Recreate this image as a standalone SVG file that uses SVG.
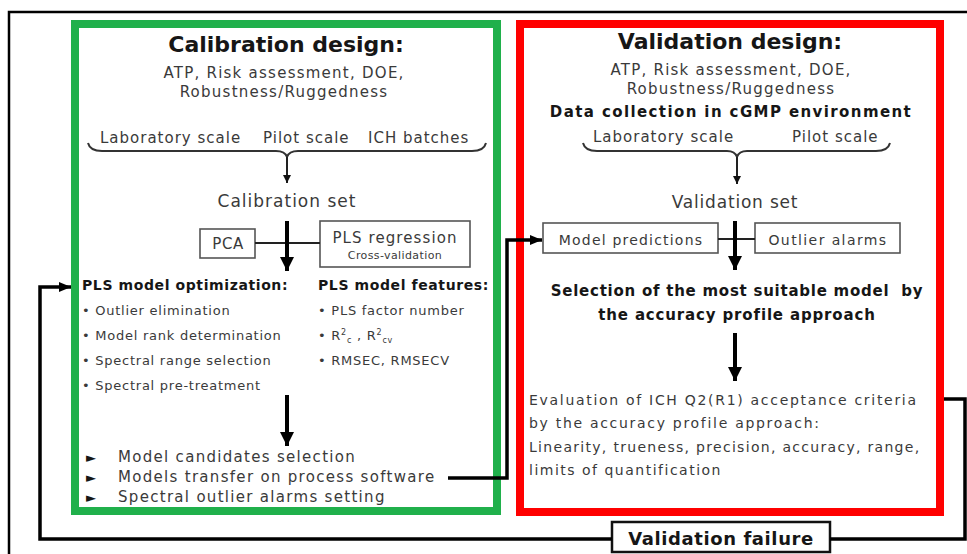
<svg xmlns="http://www.w3.org/2000/svg" width="967" height="554" viewBox="0 0 967 554">
<defs>
<style>
.r{font-family:"DejaVu Sans",Verdana,sans-serif;fill:#3a3a3a}
.b{font-family:"DejaVu Sans",Verdana,sans-serif;font-weight:bold;fill:#161616}
.m{text-anchor:middle}
.box{fill:#fff;stroke:#555;stroke-width:1.6}
.ln{fill:none;stroke:#000;stroke-width:3.5}
.thin{fill:none;stroke:#222;stroke-width:2}
.th{fill:none;stroke:#000;stroke-width:4}
.brace{fill:none;stroke:#333;stroke-width:2}
</style>
<marker id="ah" markerUnits="userSpaceOnUse" viewBox="0 0 12 10" refX="12" refY="5" markerWidth="12" markerHeight="10" orient="auto"><path d="M0,0L12,5L0,10z" fill="#000"/></marker>
<marker id="ahs" markerUnits="userSpaceOnUse" viewBox="0 0 8 8" refX="8" refY="4" markerWidth="8" markerHeight="8" orient="auto"><path d="M0,0L8,4L0,8z" fill="#111"/></marker>
<marker id="ahb" markerUnits="userSpaceOnUse" viewBox="0 0 14 14" refX="14" refY="7" markerWidth="14" markerHeight="14" orient="auto"><path d="M0,0L14,7L0,14z" fill="#000"/></marker>
</defs>
<rect width="967" height="554" fill="#fff"/>

<g id="frame">
<path d="M9,554V12H967" fill="none" stroke="#000" stroke-width="2.5"/>
</g>

<g id="calibration">
<rect x="75" y="24" width="422" height="487" fill="none" stroke="#20b04b" stroke-width="8"/>
<text class="b m" x="286" y="52" font-size="22">Calibration design:</text>
<text class="r m" x="284" y="78" font-size="15" letter-spacing="1.25">ATP, Risk assessment, DOE,</text>
<text class="r m" x="284" y="97" font-size="15" letter-spacing="1.25">Robustness/Ruggedness</text>
<text class="r" x="100" y="143" font-size="15" letter-spacing="1">Laboratory scale</text>
<text class="r" x="263" y="143" font-size="15" letter-spacing="1">Pilot scale</text>
<text class="r" x="368" y="143" font-size="15" letter-spacing="1">ICH batches</text>
<path class="brace" d="M88,143Q90,151 102,151L276,151Q285,151 287,157Q289,151 298,151L472,151Q484,151 486,143"/>
<text class="r m" x="287" y="207" font-size="17" letter-spacing="1">Calibration set</text>
</g>

<g id="pca">
<rect class="box" x="200" y="229" width="55" height="29"/>
<text class="r m" x="228" y="249" font-size="15" letter-spacing="0.5">PCA</text>
</g>

<g id="pls-regression">
<rect class="box" x="320" y="221" width="150" height="46"/>
<text class="r m" x="395" y="243" font-size="15" letter-spacing="1.1">PLS regression</text>
<text class="r m" x="395" y="259" font-size="11" letter-spacing="0.4">Cross-validation</text>
</g>

<g id="pls-optimization">
<text class="b" x="82" y="290" font-size="14" letter-spacing="0.6">PLS model optimization:</text>
<text class="r" x="82" y="315" font-size="13" letter-spacing="0.75">• Outlier elimination</text>
<text class="r" x="82" y="340" font-size="13" letter-spacing="0.75">• Model rank determination</text>
<text class="r" x="82" y="365" font-size="13" letter-spacing="0.75">• Spectral range selection</text>
<text class="r" x="82" y="390" font-size="13" letter-spacing="0.75">• Spectral pre-treatment</text>
</g>

<g id="pls-features">
<text class="b" x="318" y="290" font-size="14" letter-spacing="0.6">PLS model features:</text>
<text class="r" x="318" y="315" font-size="13" letter-spacing="0.75">• PLS factor number</text>
<text class="r" x="318" y="340" font-size="13" letter-spacing="0.75">• R<tspan font-size="8" dy="-5">2</tspan><tspan font-size="8" dy="8">c</tspan><tspan dy="-3"> , R</tspan><tspan font-size="8" dy="-5">2</tspan><tspan font-size="8" dy="8">cv</tspan></text>
<text class="r" x="318" y="365" font-size="13" letter-spacing="0.75">• RMSEC, RMSECV</text>
</g>

<g id="calibration-output">
<text class="b" x="86" y="462" font-size="13">►</text>
<text class="b" x="86" y="482" font-size="13">►</text>
<text class="b" x="86" y="502" font-size="13">►</text>
<text class="r" x="118" y="462" font-size="15" letter-spacing="1.3">Model candidates selection</text>
<text class="r" x="118" y="482" font-size="15" letter-spacing="1.3">Models transfer on process software</text>
<text class="r" x="118" y="502" font-size="15" letter-spacing="1.3">Spectral outlier alarms setting</text>
</g>

<g id="validation">
<rect x="520" y="24" width="420" height="488" fill="none" stroke="#ff0000" stroke-width="8"/>
<text class="b m" x="730" y="49" font-size="22">Validation design:</text>
<text class="r m" x="731" y="75" font-size="15" letter-spacing="1.25">ATP, Risk assessment, DOE,</text>
<text class="r m" x="731" y="94" font-size="15" letter-spacing="1.25">Robustness/Ruggedness</text>
<text class="b m" x="731" y="117" font-size="15" letter-spacing="1.4">Data collection in cGMP environment</text>
<text class="r" x="593" y="142" font-size="15" letter-spacing="1">Laboratory scale</text>
<text class="r" x="792" y="142" font-size="15" letter-spacing="1">Pilot scale</text>
<path class="brace" d="M583,143Q585,151 597,151L727,151Q735,151 737,157Q739,151 747,151L876,151Q888,151 890,143"/>
<text class="r m" x="735" y="208" font-size="17" letter-spacing="0.8">Validation set</text>
</g>

<g id="model-predictions">
<rect class="box" x="543" y="223" width="175" height="30"/>
<text class="r m" x="631" y="245" font-size="14" letter-spacing="1.2">Model predictions</text>
</g>

<g id="outlier-alarms">
<rect class="box" x="755" y="223" width="145" height="30"/>
<text class="r m" x="828" y="245" font-size="14" letter-spacing="1.4">Outlier alarms</text>
</g>

<g id="selection">
<text class="b m" x="737" y="296" font-size="15" letter-spacing="0.75" xml:space="preserve">Selection of the most suitable model  by</text>
<text class="b m" x="737" y="320" font-size="15" letter-spacing="0.85">the accuracy profile approach</text>
</g>

<g id="evaluation">
<text class="r" x="529" y="405" font-size="14" letter-spacing="1.7">Evaluation of ICH Q2(R1) acceptance criteria</text>
<text class="r" x="529" y="428" font-size="14" letter-spacing="1.7">by the accuracy profile approach:</text>
<text class="r" x="529" y="452" font-size="14" letter-spacing="1.3">Linearity, trueness, precision, accuracy, range,</text>
<text class="r" x="529" y="475" font-size="14" letter-spacing="1.5">limits of quantification</text>
</g>

<g id="validation-failure">
<rect x="612" y="522" width="218" height="30" fill="#fff" stroke="#111" stroke-width="2.5"/>
<text class="b m" x="721" y="545" font-size="18" letter-spacing="0.6">Validation failure</text>
</g>

<g id="connectors">
<path class="thin" d="M287,157V183" marker-end="url(#ahs)"/>
<path class="thin" d="M737,157V184" marker-end="url(#ahs)"/>
<path class="thin" d="M255,243H320"/>
<path class="thin" d="M718,239H755"/>
<path class="th" d="M287,221V271" marker-end="url(#ahb)"/>
<path class="th" d="M735,221V270" marker-end="url(#ahb)"/>
<path class="th" d="M287,395V446" marker-end="url(#ahb)"/>
<path class="th" d="M735,333V381" marker-end="url(#ahb)"/>
<path class="ln" d="M448,478H507V240H542" marker-end="url(#ah)"/>
<path class="ln" d="M944,399H965V539H830"/>
<path class="ln" d="M612,539H40V287H71" marker-end="url(#ah)"/>
</g>
</svg>
